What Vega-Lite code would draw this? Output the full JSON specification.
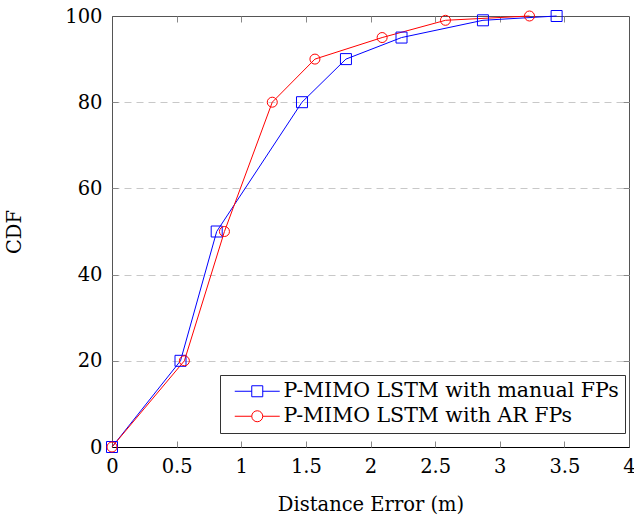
{
  "$schema": "https://vega.github.io/schema/vega-lite/v6.json",
  "autosize": {"type": "none"},
  "width": 517,
  "height": 431,
  "padding": {"left": 112, "top": 16, "right": 5, "bottom": 70},
  "background": "white",
  "config": {
    "font": "DejaVu Serif",
    "view": {"stroke": "#555", "strokeWidth": 1},
    "axis": {
      "labelFont": "DejaVu Serif",
      "titleFont": "DejaVu Serif",
      "labelFontSize": 19.5,
      "titleFontSize": 19.5,
      "labelColor": "black",
      "titleColor": "black",
      "titleFontWeight": "normal",
      "tickColor": "#888",
      "domainColor": "#555"
    },
    "legend": {
      "labelFont": "DejaVu Serif"
    }
  },
  "data": {
    "values": [
      {"series": "P-MIMO LSTM with manual FPs", "x": 0, "y": 0},
      {"series": "P-MIMO LSTM with manual FPs", "x": 0.53, "y": 20},
      {"series": "P-MIMO LSTM with manual FPs", "x": 0.81, "y": 50},
      {"series": "P-MIMO LSTM with manual FPs", "x": 1.47, "y": 80},
      {"series": "P-MIMO LSTM with manual FPs", "x": 1.81, "y": 90},
      {"series": "P-MIMO LSTM with manual FPs", "x": 2.24, "y": 95},
      {"series": "P-MIMO LSTM with manual FPs", "x": 2.87, "y": 99},
      {"series": "P-MIMO LSTM with manual FPs", "x": 3.44, "y": 100},
      {"series": "P-MIMO LSTM with AR FPs", "x": 0, "y": 0},
      {"series": "P-MIMO LSTM with AR FPs", "x": 0.56, "y": 20},
      {"series": "P-MIMO LSTM with AR FPs", "x": 0.87, "y": 50},
      {"series": "P-MIMO LSTM with AR FPs", "x": 1.24, "y": 80},
      {"series": "P-MIMO LSTM with AR FPs", "x": 1.57, "y": 90},
      {"series": "P-MIMO LSTM with AR FPs", "x": 2.09, "y": 95},
      {"series": "P-MIMO LSTM with AR FPs", "x": 2.58, "y": 99},
      {"series": "P-MIMO LSTM with AR FPs", "x": 3.23, "y": 100}
    ]
  },
  "resolve": {"axis": {"x": "independent", "y": "independent"}},
  "layer": [
    {
      "mark": {"type": "line", "strokeWidth": 1},
      "encoding": {
        "x": {
          "field": "x", "type": "quantitative",
          "scale": {"domain": [0, 4], "nice": false, "zero": false},
          "axis": {
            "orient": "bottom", "values": [0, 0.5, 1, 1.5, 2, 2.5, 3, 3.5, 4],
            "format": "~g", "ticks": false, "labelPadding": 10,
            "domainColor": "black", "title": "Distance Error (m)", "titlePadding": 20,
            "grid": false, "labelFlush": false
          }
        },
        "y": {
          "field": "y", "type": "quantitative",
          "scale": {"domain": [0, 100], "nice": false},
          "axis": {
            "orient": "left", "values": [0, 20, 40, 60, 80, 100],
            "ticks": false, "labelPadding": 10, "title": "CDF", "titlePadding": 40,
            "grid": false, "domainColor": "#555", "labelFlush": false
          }
        },
        "color": {
          "field": "series", "type": "nominal",
          "scale": {"domain": ["P-MIMO LSTM with manual FPs", "P-MIMO LSTM with AR FPs"], "range": ["#0000ff", "#ff0000"]},
          "legend": {
            "orient": "none", "legendX": 108, "legendY": 359, "title": null,
            "fillColor": "white", "strokeColor": "#333", "padding": 6,
            "labelFontSize": 20.5, "labelColor": "black",
            "labelOffset": 16, "symbolOffset": 21, "rowPadding": 4, "symbolSize": 121, "symbolStrokeWidth": 1,
            "labelLimit": 0,
            "encode": {
              "symbols": {
                "update": {
                  "shape": {"signal": "datum.value === 'P-MIMO LSTM with manual FPs' ? 'M-4.09,0H-1M1,0H4.09M-1,-1H1V1H-1Z' : 'M-4.09,0H-1M1,0H4.09M1,0A1,1,0,1,1,-1,0A1,1,0,1,1,1,0Z'"},
                  "fill": {"value": "transparent"},
                  "size": {"value": 121},
                  "strokeWidth": {"value": 1}
                }
              }
            }
          }
        }
      }
    },
    {
      "transform": [{"filter": "datum.series === 'P-MIMO LSTM with manual FPs'"}],
      "mark": {"type": "point", "shape": "square", "filled": false, "strokeWidth": 1, "opacity": 1, "color": "#0000ff", "size": 121},
      "encoding": {
        "x": {
          "field": "x", "type": "quantitative",
          "axis": {"orient": "top", "values": [0.5, 1, 1.5, 2, 2.5, 3, 3.5], "labels": false, "title": null, "tickSize": 6, "offset": -6, "domain": false, "grid": false}
        },
        "y": {
          "field": "y", "type": "quantitative",
          "axis": {"orient": "right", "values": [20, 40, 60, 80], "labels": false, "title": null, "tickSize": 6, "offset": -6, "domain": false, "grid": false}
        }
      }
    },
    {
      "transform": [{"filter": "datum.series === 'P-MIMO LSTM with AR FPs'"}],
      "mark": {"type": "point", "shape": "circle", "filled": false, "strokeWidth": 1, "opacity": 1, "color": "#ff0000", "size": 100},
      "encoding": {
        "x": {
          "field": "x", "type": "quantitative",
          "axis": {"orient": "bottom", "values": [0.5, 1, 1.5, 2, 2.5, 3, 3.5], "labels": false, "title": null, "tickSize": 6, "offset": -6, "domain": false, "grid": false}
        },
        "y": {
          "field": "y", "type": "quantitative",
          "axis": {"orient": "left", "values": [20, 40, 60, 80], "labels": false, "title": null, "tickSize": 6, "offset": -6, "domain": false,
            "grid": true, "gridColor": "#c8c8c8", "gridDash": [7, 5], "gridWidth": 1}
        }
      }
    }
  ]
}
